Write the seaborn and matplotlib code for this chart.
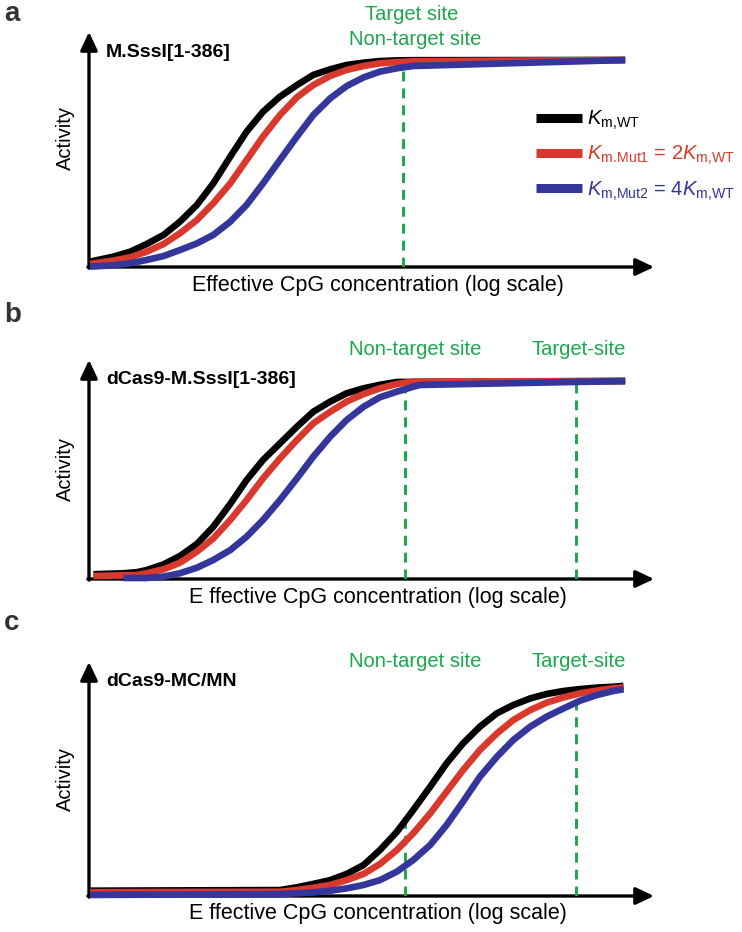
import matplotlib
matplotlib.use("Agg")
import matplotlib.pyplot as plt
import seaborn as sns
import pandas as pd
from matplotlib.lines import Line2D

# ---- data (x: log concentration units, y: relative activity) ----
conc_a = [0.02, 0.43, 0.73, 1.02, 1.32, 1.61, 1.91, 2.20, 2.50, 2.79, 3.08, 3.38,
          3.68, 3.97, 4.27, 4.56, 4.86, 5.15, 5.45, 5.74, 9.49]
act_a_wt = [0.026, 0.050, 0.074, 0.111, 0.155, 0.219, 0.300, 0.404, 0.533, 0.654, 0.750, 0.823,
            0.879, 0.928, 0.955, 0.976, 0.987, 0.995, 0.998, 0.999, 1.0]
act_a_mut1 = [0.014, 0.031, 0.047, 0.074, 0.111, 0.163, 0.227, 0.308, 0.404, 0.517, 0.630, 0.734,
              0.820, 0.879, 0.923, 0.952, 0.971, 0.984, 0.990, 0.994, 1.0]
act_a_mut2 = [0.002, 0.008, 0.018, 0.034, 0.053, 0.082, 0.114, 0.155, 0.219, 0.300, 0.404, 0.517,
              0.630, 0.734, 0.815, 0.874, 0.916, 0.944, 0.960, 0.971, 1.0]

conc_b_wt = [0.08, 0.61, 0.84, 1.02, 1.32, 1.61, 1.91, 2.20, 2.50, 2.79, 3.08, 3.38,
             3.68, 3.97, 4.27, 4.56, 4.86, 5.15, 5.45, 9.49]
act_b_wt = [0.024, 0.029, 0.034, 0.045, 0.074, 0.116, 0.177, 0.264, 0.379, 0.500, 0.601, 0.685,
            0.769, 0.845, 0.896, 0.938, 0.963, 0.981, 0.995, 1.0]
conc_b_mut1 = [0.08, 0.84, 1.02, 1.32, 1.61, 1.91, 2.20, 2.50, 2.79, 3.08, 3.38, 3.68,
               3.97, 4.27, 4.56, 4.86, 5.15, 5.45, 5.74, 9.49]
act_b_mut1 = [0.015, 0.020, 0.029, 0.049, 0.082, 0.138, 0.205, 0.298, 0.399, 0.508, 0.609, 0.702,
              0.786, 0.845, 0.896, 0.934, 0.963, 0.985, 0.997, 1.0]
conc_b_mut2 = [0.61, 1.02, 1.32, 1.61, 1.91, 2.20, 2.50, 2.79, 3.08, 3.38, 3.68, 3.97,
               4.27, 4.56, 4.86, 5.15, 5.45, 5.74, 5.86, 9.49]
act_b_mut2 = [0.005, 0.005, 0.012, 0.029, 0.057, 0.096, 0.146, 0.214, 0.298, 0.399, 0.508, 0.618,
              0.719, 0.803, 0.870, 0.918, 0.946, 0.971, 0.980, 1.0]

conc_c = [0.02, 3.38, 3.68, 3.97, 4.27, 4.56, 4.86, 5.15, 5.45, 5.74, 6.04, 6.33,
          6.62, 6.92, 7.22, 7.51, 7.81, 8.10, 8.40, 8.69, 8.99, 9.28, 9.46]
act_c_wt = [0.025, 0.028, 0.041, 0.057, 0.075, 0.104, 0.146, 0.217, 0.303, 0.406, 0.516, 0.626,
            0.720, 0.799, 0.862, 0.901, 0.932, 0.953, 0.967, 0.976, 0.983, 0.987, 0.991]
act_c_mut1 = [0.018, 0.020, 0.028, 0.039, 0.052, 0.075, 0.104, 0.151, 0.217, 0.296, 0.390, 0.492,
              0.594, 0.689, 0.767, 0.830, 0.877, 0.912, 0.937, 0.956, 0.969, 0.980, 0.984]
act_c_mut2 = [0.005, 0.009, 0.013, 0.017, 0.025, 0.036, 0.052, 0.075, 0.115, 0.170, 0.241, 0.335,
              0.445, 0.563, 0.657, 0.736, 0.799, 0.846, 0.885, 0.921, 0.948, 0.967, 0.975]

# dashed site markers: position and the height where each dashed line stops
sites_a_x = [5.56]
sites_a_top = [0.995]
sites_bc_x = [5.59, 8.62]
sites_b_top = [1.0, 1.0]
sites_c_top = [0.344, 0.93]

titles = ["M.SssI[1-386]", "dCas9-M.SssI[1-386]", "dCas9-MC/MN"]
panel_letters = ["a", "b", "c"]
enzymes = ["WT", "Mut1", "Mut2"]
legend_labels = [r"$K_{\mathrm{m{,}WT}}$",
                 r"$K_{\mathrm{m.\!Mut1}}$ = 2$K_{\mathrm{m{,}WT}}$",
                 r"$K_{\mathrm{m{,}Mut2}}$ = 4$K_{\mathrm{m{,}WT}}$"]

BLACK = "#000000"
RED = "#d9392c"
BLUE = "#34369b"
GREEN = "#1ca64c"
palette = {"WT": BLACK, "Mut1": RED, "Mut2": BLUE}

sns.set_theme(style="white")
plt.rcParams["font.family"] = ["Liberation Sans", "DejaVu Sans"]
plt.rcParams["text.color"] = "black"
plt.rcParams["mathtext.fontset"] = "custom"
plt.rcParams["mathtext.rm"] = "Liberation Sans"
plt.rcParams["mathtext.it"] = "Liberation Sans:italic"
plt.rcParams["mathtext.bf"] = "Liberation Sans:bold"

W, H = 742, 932
fig = plt.figure(figsize=(W / 100, H / 100), dpi=100)


def make_df(curves):
    rows = []
    for name, xs, ys in curves:
        for x, y in zip(xs, ys):
            rows.append({"conc": x, "act": y, "enzyme": name})
    return pd.DataFrame(rows)


def panel(top, bottom, scale, curves, sites_x, sites_top, title, letter, letter_y,
          labels, ylab_pos, xlab_text):
    h = bottom - top
    ax = fig.add_axes([89 / W, 1 - bottom / H, 565 / W, h / H])
    ax.set_xlim(0, 10)
    ax.set_ylim(0, h / scale)
    for s in ax.spines.values():
        s.set_visible(False)
    ax.set_xticks([])
    ax.set_yticks([])

    # axes drawn as arrows
    ap = dict(arrowstyle="-|>,head_length=0.55,head_width=0.26", color="black", lw=2.4,
              shrinkA=0, shrinkB=0, mutation_scale=20)
    ax.annotate("", xy=(1, 0), xytext=(-0.002, 0), xycoords="axes fraction", arrowprops=ap, zorder=1)
    ax.annotate("", xy=(0, 1), xytext=(0, -0.005), xycoords="axes fraction", arrowprops=ap, zorder=1)

    df = make_df(curves)
    sns.lineplot(data=df, x="conc", y="act", hue="enzyme", hue_order=enzymes, palette=palette,
                 linewidth=4.8, legend=False, ax=ax, zorder=3, clip_on=False,
                 solid_capstyle="butt", solid_joinstyle="round")
    ax.set_xlabel("")
    ax.set_ylabel("")

    ax.vlines(sites_x, 0, sites_top, colors=GREEN, linestyles=(0, (3.4, 2.4)), lw=2.1, zorder=2)

    ax.text(0.03, title[1], title[0], transform=ax.transAxes, fontsize=14, fontweight="bold",
            va="center", ha="left")
    for txt, x, y in labels:
        ax.text(x, y, txt, color=GREEN, fontsize=14.5, ha="center", va="center")

    ax.text(-0.042, ylab_pos, "Activity", transform=ax.transAxes, fontsize=14.5,
            rotation=90, ha="center", va="center")
    ax.text(0.512, -18 / h, xlab_text, transform=ax.transAxes, fontsize=15.5,
            ha="center", va="center")

    fig.text(4 / W, 1 - letter_y / H, letter, fontsize=20, fontweight="bold", color="#333333",
             ha="left", va="baseline")
    return ax


ax_a = panel(32, 267, 207,
             [("WT", conc_a, act_a_wt), ("Mut1", conc_a, act_a_mut1), ("Mut2", conc_a, act_a_mut2)],
             sites_a_x, sites_a_top, (titles[0], 0.912), panel_letters[0], 21,
             [("Target site", 5.72, 1.222), ("Non-target site", 5.77, 1.101)], 0.55,
             "Effective CpG concentration (log scale)")

ax_b = panel(360, 579, 198,
             [("WT", conc_b_wt, act_b_wt), ("Mut1", conc_b_mut1, act_b_mut1),
              ("Mut2", conc_b_mut2, act_b_mut2)],
             sites_bc_x, sites_b_top, (titles[1], 0.912), panel_letters[1], 322,
             [("Non-target site", 5.77, 1.16), ("Target-site", 8.67, 1.16)], 0.50,
             "E ffective CpG concentration (log scale)")

ax_c = panel(662, 896, 212,
             [("WT", conc_c, act_c_wt), ("Mut1", conc_c, act_c_mut1), ("Mut2", conc_c, act_c_mut2)],
             sites_bc_x, sites_c_top, (titles[2], 0.915), panel_letters[2], 630,
             [("Non-target site", 5.77, 1.104), ("Target-site", 8.67, 1.104)], 0.50,
             "E ffective CpG concentration (log scale)")

# legend in panel a
handles = [Line2D([0], [0], color=palette[e], lw=6.5, solid_capstyle="butt") for e in enzymes]
leg = ax_a.legend(handles, legend_labels, loc="upper left", bbox_to_anchor=(536 / W, 1 - 109 / H),
                  bbox_transform=fig.transFigure, frameon=False, fontsize=14.5,
                  handlelength=2.3, handletextpad=0.25, labelspacing=0.6,
                  borderpad=0, borderaxespad=0)
for t, e in zip(leg.get_texts(), enzymes):
    t.set_color(palette[e])

fig.savefig("out.png", dpi=100)
